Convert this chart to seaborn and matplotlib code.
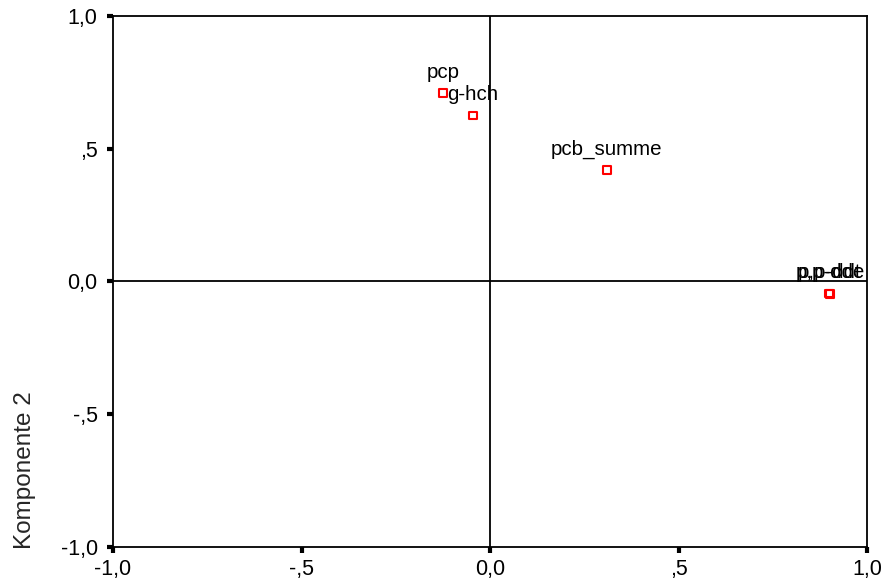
import matplotlib
matplotlib.use("Agg")
import numpy as np
import pandas as pd
import seaborn as sns
import matplotlib.pyplot as plt
from matplotlib.ticker import FuncFormatter

variables = ['pcp', 'g-hch', 'pcb_summe', 'p,p-ddt', 'p,p-dde']
komp1 = [-0.125, -0.045, 0.31, 0.90, 0.902]
komp2 = [0.71, 0.625, 0.42, -0.045, -0.046]
ticks = [-1.0, -0.5, 0.0, 0.5, 1.0]

def spss_fmt(v, pos):
    s = f"{v:.1f}".replace('.', ',')
    if s.startswith('0,') and v != 0:
        s = s[1:]
    if s.startswith('-0,'):
        s = '-' + s[2:]
    return s

sns.set_style("white")
plt.rcParams['font.family'] = ['Liberation Sans', 'DejaVu Sans']

df = pd.DataFrame({'Komponente 1': komp1, 'Komponente 2': komp2, 'var': variables})

fig = plt.figure(figsize=(8.85, 5.84), dpi=100)
ax = fig.add_axes([0.1277, 0.0634, 0.852, 0.9092])

ax.axhline(0, color='black', lw=1.3, zorder=1)
ax.axvline(0, color='black', lw=1.3, zorder=1)

sns.scatterplot(data=df, x='Komponente 1', y='Komponente 2', marker='s', s=32,
                facecolor='none', edgecolor='red', linewidth=1.5, ax=ax, zorder=3)

for i in range(len(variables)):
    ax.annotate(variables[i], (komp1[i], komp2[i]), xytext=(0, 15),
                textcoords='offset points', ha='center', va='center',
                fontsize=14.8, color='black')

ax.set_xlim(-1, 1)
ax.set_ylim(-1, 1)
ax.set_xticks(ticks)
ax.set_yticks(ticks)
ax.xaxis.set_major_formatter(FuncFormatter(spss_fmt))
ax.yaxis.set_major_formatter(FuncFormatter(spss_fmt))
ax.tick_params(axis='both', direction='out', length=4, width=3, labelsize=15.5,
               color='black', labelcolor='black', bottom=True, left=True)
ax.tick_params(axis='x', pad=5)
ax.tick_params(axis='y', pad=7)

for sp in ax.spines.values():
    sp.set_color('black')
    sp.set_linewidth(1.3)

ax.set_xlabel('')
ax.set_ylabel('Komponente 2', fontsize=17.5)
ax.yaxis.set_label_coords(-0.102, 0.145)

fig.savefig('out.png', dpi=100)
